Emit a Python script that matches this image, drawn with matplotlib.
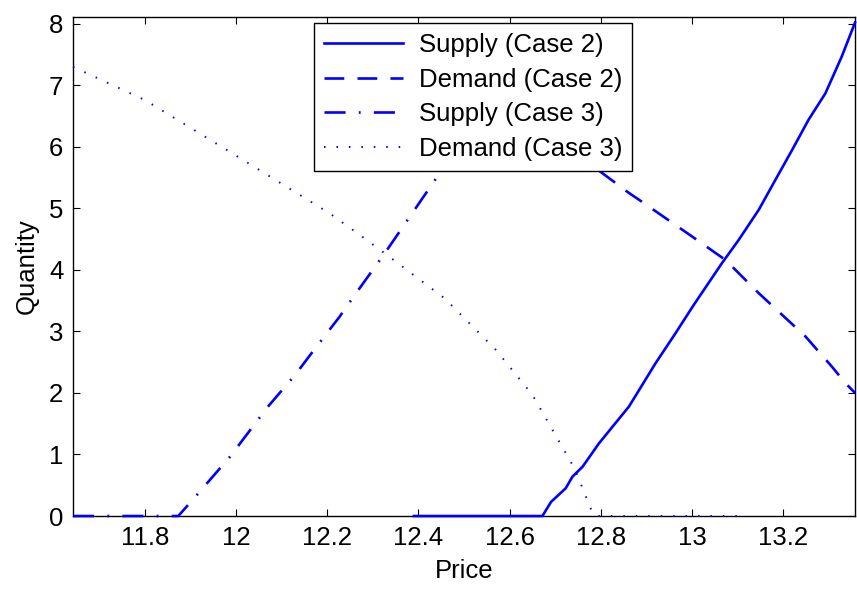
import numpy as np
import matplotlib
matplotlib.use('Agg')
import matplotlib.pyplot as plt

plt.rcParams['font.family'] = ['Liberation Sans', 'DejaVu Sans']

# Supply (Case 2)
s2_price = [12.39, 12.672, 12.691, 12.723, 12.738, 12.760, 12.796, 12.862, 12.920,
            12.964, 13.004, 13.066, 13.103, 13.147, 13.183, 13.22, 13.256, 13.293,
            13.329, 13.358]
s2_qty   = [0, 0, 0.23, 0.45, 0.64, 0.80, 1.18, 1.78, 2.48,
            2.97, 3.43, 4.11, 4.49, 4.98, 5.46, 5.95, 6.44, 6.87,
            7.47, 8.02]

# Demand (Case 2)
d2_price = [12.39, 12.5, 12.6, 12.7, 12.804, 12.862, 12.884, 13.001, 13.074,
            13.147, 13.249, 13.307, 13.337, 13.358]
d2_qty   = [7.85, 7.25, 6.70, 6.15, 5.57, 5.25, 5.14, 4.54, 4.16,
            3.62, 2.92, 2.43, 2.16, 2.00]

# Supply (Case 3)
s3_price = [11.642, 11.873, 11.910, 11.986, 12.070, 12.129, 12.176, 12.227,
            12.26, 12.326, 12.439, 12.5, 12.6]
s3_qty   = [0, 0, 0.31, 0.96, 1.78, 2.29, 2.75, 3.24,
            3.59, 4.27, 5.49, 6.10, 7.10]

# Demand (Case 3)
d3_price = [11.642, 11.8, 11.986, 12.205, 12.271, 12.326, 12.457, 12.570,
            12.65, 12.742, 12.782, 12.79, 13.12]
d3_qty   = [7.30, 6.76, 5.92, 4.92, 4.57, 4.27, 3.54, 2.70,
            1.97, 0.78, 0.05, 0, 0]

xticks = [11.8, 12, 12.2, 12.4, 12.6, 12.8, 13, 13.2]
xtick_labels = ['11.8', '12', '12.2', '12.4', '12.6', '12.8', '13', '13.2']
yticks = [0, 1, 2, 3, 4, 5, 6, 7, 8]

fs = 18.5

fig = plt.figure(figsize=(8.57, 5.93), dpi=100)
ax = fig.add_axes([0.0852, 0.1298, 0.9125, 0.8415])

blue = '#0000ff'
lw = 1.9
kw = dict(color=blue, clip_on=False, zorder=3)
ax.plot(s2_price, s2_qty, lw=lw, linestyle='-', label='Supply (Case 2)', **kw)
ax.plot(d2_price, d2_qty, lw=lw, linestyle=(0, (7.5, 5)), label='Demand (Case 2)', **kw)
ax.plot(s3_price, s3_qty, lw=lw, linestyle=(0, (8, 5, 0.7, 5)), label='Supply (Case 3)', **kw)
ax.plot(d3_price, d3_qty, lw=1.4, linestyle=(0, (0.8, 5.6)), label='Demand (Case 3)', **kw)

ax.set_xlim(11.642, 13.358)
ax.set_ylim(0, 8.11)
ax.set_xticks(xticks)
ax.set_xticklabels(xtick_labels)
ax.set_yticks(yticks)
ax.tick_params(direction='in', length=5, width=0.8, top=True, right=True,
               labelsize=fs, pad=7)
for sp in ax.spines.values():
    sp.set_linewidth(1.0)

ax.set_xlabel('Price', fontsize=fs, labelpad=7)
ax.set_ylabel('Quantity', fontsize=fs, labelpad=7)

leg = ax.legend(loc='upper left', bbox_to_anchor=(0.308, 0.988), borderaxespad=0,
                fontsize=fs, handlelength=3.1, handletextpad=0.6,
                labelspacing=0.42, borderpad=0.38, fancybox=False,
                framealpha=1, edgecolor='black')
leg.get_frame().set_linewidth(1.0)
leg.set_zorder(5)

fig.savefig('out.png', dpi=100)
